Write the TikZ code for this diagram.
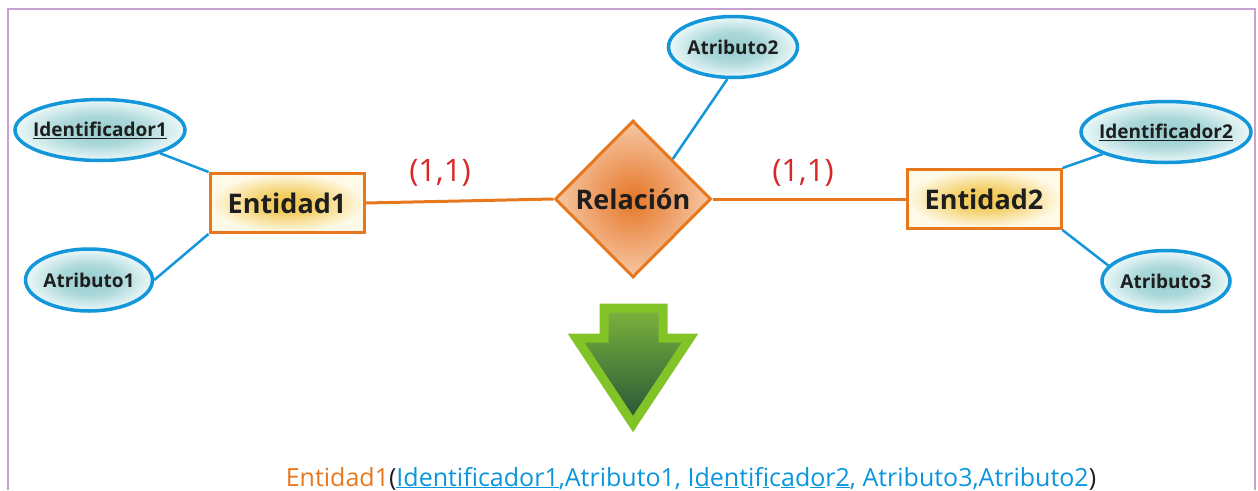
\documentclass[tikz,border=0pt]{standalone}
\usepackage{fontspec}
\setmainfont{Open Sans}
\usepackage{tikz}
\usetikzlibrary{arrows.meta, positioning, shapes.geometric}
\definecolor{entorange}{RGB}{232, 120, 30}
\definecolor{entyellow}{RGB}{240, 196, 70}
\definecolor{entpale}{RGB}{255, 250, 232}
\definecolor{relorange}{RGB}{230, 118, 40}
\definecolor{relpale}{RGB}{246, 200, 165}
\definecolor{attblue}{RGB}{20, 150, 218}
\definecolor{attteal}{RGB}{150, 205, 208}
\definecolor{attpale}{RGB}{236, 248, 248}
\definecolor{cardred}{RGB}{215, 40, 40}
\definecolor{framelilac}{RGB}{200, 160, 210}
\definecolor{arrowlime}{RGB}{130, 195, 40}
\definecolor{arrowtop}{RGB}{125, 180, 60}
\definecolor{arrowbottom}{RGB}{35, 82, 55}
\definecolor{textblue}{RGB}{10, 150, 220}
\definecolor{textdark}{RGB}{30, 30, 30}
\pgfdeclareradialshading{entshade}{\pgfpoint{0bp}{0bp}}{color(0bp)=(entyellow); color(10bp)=(entyellow!75!entpale); color(25bp)=(entpale); color(50bp)=(entpale)}
\pgfdeclareradialshading{attshade}{\pgfpoint{0bp}{0bp}}{color(0bp)=(attteal); color(12bp)=(attteal!75!attpale); color(25bp)=(attpale); color(50bp)=(attpale)}
\newcommand{\undl}[1]{\underline{\vphantom{I}#1}}

\begin{document}
\begin{tikzpicture}[
    x=1pt, y=-1pt,
    entity/.style={rectangle, draw=entorange, line width=3pt, shading=entshade, minimum width=154pt, minimum height=59pt, inner sep=0pt, text=textdark, font=\fontsize{27}{29}\selectfont\bfseries},
    relation/.style={diamond, draw=entorange, line width=3pt, shading=radial, inner color=relorange, outer color=relpale, minimum width=156pt, minimum height=157pt, inner sep=0pt, text=textdark, font=\fontsize{27}{29}\selectfont\bfseries},
    attrib/.style={ellipse, draw=attblue, line width=3.5pt, shading=attshade, inner xsep=-8pt, inner ysep=0pt, text=textdark, font=\fontsize{19}{21}\selectfont\bfseries},
    attline/.style={draw=attblue, line width=2.5pt},
    relline/.style={draw=entorange, line width=3pt},
    card/.style={text=cardred, font=\fontsize{31}{33}\selectfont}
]
    \useasboundingbox (0,0) rectangle (1258,490);

    % Frame
    \draw [framelilac, line width=2pt] (8,490) -- (8,9) -- (1255,9) -- (1255,490);

    % Entities and relation
    \node (ent1) [entity] at (287, 203) {Entidad1};
    \node (rel) [relation] at (633, 199) {Relación};
    \node (ent2) [entity] at (984, 199) {Entidad2};

    % Attributes
    \node (id1) [attrib, minimum width=170pt, minimum height=61pt] at (100, 130) {\undl{Identificador1}};
    \node (at1) [attrib, minimum width=127pt, minimum height=62pt] at (89, 280) {Atributo1};
    \node (at2) [attrib, minimum width=129pt, minimum height=61pt] at (733, 47) {Atributo2};
    \node (id2) [attrib, minimum width=170pt, minimum height=61pt] at (1166, 132) {\undl{Identificador2}};
    \node (at3) [attrib, minimum width=128pt, minimum height=61pt] at (1166, 281) {Atributo3};

    % Connectors
    \draw [attline] (id1) -- (ent1.north west);
    \draw [attline] (at1.east) -- (ent1.south west);
    \draw [attline] (at2.-100) -- (rel.north east);
    \draw [attline] (id2) -- (ent2.north east);
    \draw [attline] (at3.165) -- (ent2.south east);
    \draw [relline] (ent1.east) -- (rel.west);
    \draw [relline] (rel.east) -- (ent2.west);

    % Cardinalities
    \node (card1) [card] at (440, 173) {(1,1)};
    \node (card2) [card] at (803, 173) {(1,1)};

    % Down arrow
    \draw [arrowlime, line width=9pt, miter limit=3, top color=arrowtop, bottom color=arrowbottom]
        (604,308) -- (663,308) -- (663,338) -- (690,338) -- (633,424) -- (576,338) -- (604,338) -- cycle;

    % Resulting relation
    \node (result) [anchor=base, text=textblue, font=\fontsize{25}{27}\selectfont] at (691, 486)
        {\textcolor{entorange}{Entidad1}\textcolor{textdark}{(}\undl{Identificador1},Atributo1, I\undl{d}e\undl{n}t\undl{i}f\undl{i}c\undl{a}d\undl{o}r\undl{2}, Atributo3,Atributo2\textcolor{textdark}{)}};

\end{tikzpicture}
\end{document}
